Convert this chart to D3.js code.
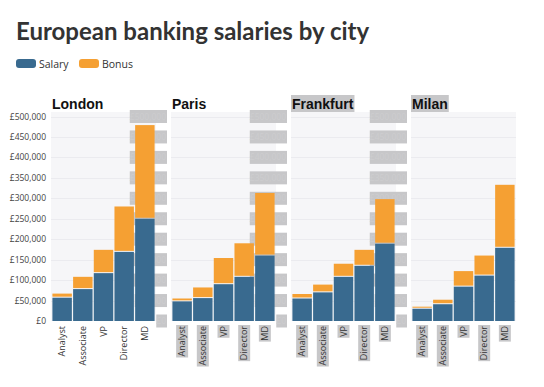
<!DOCTYPE html>
<html>
<head>
<meta charset="utf-8">
<script src="https://cdn.jsdelivr.net/npm/d3@7"></script>
<style>
  body { margin: 0; background: #fff; }
  svg { display: block; }
</style>
</head>
<body>
<svg id="chart" width="544" height="387"></svg>
<script>
const cities = ["London", "Paris", "Frankfurt", "Milan"];
const roles = ["Analyst", "Associate", "VP", "Director", "MD"];
const salary = {
  London:    [57000, 78000, 117000, 169000, 250000],
  Paris:     [48000, 56000, 90000, 108000, 160000],
  Frankfurt: [55000, 70000, 108000, 135000, 189000],
  Milan:     [30000, 41000, 84000, 111000, 179000]
};
const bonus = {
  London:    [10000, 30000, 57000, 111000, 229000],
  Paris:     [7000, 26000, 64000, 82000, 153000],
  Frankfurt: [11000, 19000, 32000, 39000, 109000],
  Milan:     [5000, 11000, 38000, 49000, 154000]
};
const yTicks = [0, 50000, 100000, 150000, 200000, 250000, 300000, 350000, 400000, 450000, 500000];

const blue = "#396a8f", orange = "#f5a033", blockGray = "#c7c7c9";
const svg = d3.select("#chart");
const font = "'Open Sans', sans-serif";

svg.append("text")
  .attr("x", 16).attr("y", 40)
  .attr("font-family", "Lato, sans-serif")
  .attr("font-weight", 700)
  .attr("font-size", 24)
  .attr("fill", "#333")
  .text("European banking salaries by city");

// legend
const legend = svg.append("g").attr("transform", "translate(16,59)");
[["Salary", blue, 0], ["Bonus", orange, 63]].forEach(([label, c, x]) => {
  legend.append("rect").attr("x", x).attr("y", 0).attr("width", 20).attr("height", 9)
    .attr("rx", 3).attr("fill", c);
  legend.append("text").attr("x", x + 23).attr("y", 8.5)
    .attr("font-family", font).attr("font-size", 10.5).attr("fill", "#333").text(label);
});

const y = d3.scaleLinear().domain([0, 500000]).range([321, 116.5]);
const fmt = d => "£" + d3.format(",")(d);
const panelW = 103, panelStep = 120, left0 = 52, bgTop = 112;

const back = svg.append("g");
const front = svg.append("g");

cities.forEach((city, ci) => {
  const x0 = left0 + ci * panelStep;
  const x = d3.scaleBand().domain(roles).range([x0, x0 + panelW]).paddingInner(0.06).paddingOuter(0.02);
  const g = back.append("g");

  g.append("rect").attr("x", x0 - 1).attr("y", bgTop).attr("width", panelW + 2)
    .attr("height", y(0) - bgTop).attr("fill", "#f6f6f8");
  g.selectAll(".grid").data(yTicks.slice(1)).enter().append("line")
    .attr("x1", x0 - 1).attr("x2", x0 + panelW + 1)
    .attr("y1", d => Math.round(y(d)) + 0.5).attr("y2", d => Math.round(y(d)) + 0.5)
    .attr("stroke", "#ebebef");

  // y tick labels (highlighted blocks for the repeated axes)
  const ya = g.append("g");
  const blocks = ya.append("g");
  const labels = ya.append("g").selectAll("text").data(yTicks).enter().append("text")
    .attr("x", x0 - 6).attr("y", d => y(d) + 3)
    .attr("text-anchor", "end")
    .attr("font-family", font).attr("font-size", 8.5)
    .attr("fill", ci === 0 ? "#444" : "#cdcdcf")
    .text(fmt);
  if (ci > 0) {
    labels.each(function(d) {
      const w = this.getComputedTextLength();
      blocks.append("rect")
        .attr("x", x0 - 6 - w).attr("y", y(d) - 6.5)
        .attr("width", w + 1).attr("height", 13).attr("fill", blockGray);
    });
  }

  // bars
  const rows = roles.map((r, i) => ({ role: r, s: salary[city][i], b: bonus[city][i] }));
  const bars = front.append("g");
  bars.selectAll(".sal").data(rows).enter().append("rect")
    .attr("x", d => x(d.role)).attr("width", x.bandwidth())
    .attr("y", d => y(d.s)).attr("height", d => y(0) - y(d.s))
    .attr("fill", blue);
  bars.selectAll(".bon").data(rows).enter().append("rect")
    .attr("x", d => x(d.role)).attr("width", x.bandwidth())
    .attr("y", d => y(d.s + d.b)).attr("height", d => y(d.s) - y(d.s + d.b) - 1)
    .attr("fill", orange);

  // x labels
  const xb = g.append("g"), xa = g.append("g");
  roles.forEach(r => {
    const cx = x(r) + x.bandwidth() / 2;
    const t = xa.append("text")
      .attr("transform", `translate(${cx + 3},326) rotate(-90)`)
      .attr("text-anchor", "end")
      .attr("font-family", font).attr("font-size", 9).attr("fill", "#333")
      .text(r);
    if (ci > 0) {
      const w = t.node().getComputedTextLength();
      xb.append("rect").attr("x", cx - 6).attr("y", 325)
        .attr("width", 12).attr("height", w + 2).attr("fill", blockGray);
    }
  });

  // title
  const tb = g.append("g");
  const tt = g.append("text").attr("x", x0).attr("y", 109)
    .attr("font-family", "'Liberation Sans', Arial, sans-serif")
    .attr("font-weight", 700).attr("font-size", 14).attr("fill", "#111")
    .text(city);
  if (ci >= 2) {
    const w = tt.node().getComputedTextLength();
    tb.append("rect").attr("x", x0 - 1).attr("y", 95)
      .attr("width", w + 2).attr("height", 17).attr("fill", blockGray);
  }
});
</script>
</body>
</html>
